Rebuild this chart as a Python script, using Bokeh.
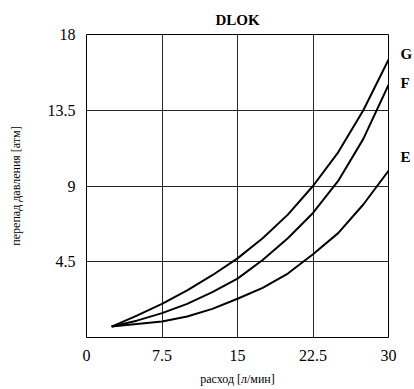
from bokeh.plotting import figure
from bokeh.models import FixedTicker, Range1d, LinearAxis
from bokeh.embed import file_html
from bokeh.resources import INLINE

x_vals = [2.5, 5, 7.5, 10, 12.5, 15, 17.5, 20, 22.5, 25, 27.5, 30]
G = [0.65, 1.3, 2.0, 2.8, 3.7, 4.7, 5.9, 7.3, 9.0, 11.0, 13.5, 16.5]
F = [0.65, 1.0, 1.45, 2.0, 2.7, 3.5, 4.6, 5.9, 7.4, 9.3, 11.8, 15.0]
E = [0.65, 0.8, 0.95, 1.25, 1.7, 2.3, 2.95, 3.8, 4.95, 6.2, 7.9, 9.9]
series_names = ["G", "F", "E"]
series = [G, F, E]
label_lift = [0.35, 0.1, 0.8]   # small vertical shift of the end labels

x_ticks = [0, 7.5, 15, 22.5, 30]
x_tick_labels = ["0", "7.5", "15", "22.5", "30"]
y_ticks = [4.5, 9, 13.5, 18]
y_tick_labels = ["4.5", "9", "13.5", "18"]

p = figure(width=412, height=386, output_backend="svg", toolbar_location=None,
           x_range=Range1d(0, 30), y_range=Range1d(0, 18),
           min_border_left=86, min_border_right=24, min_border_top=34, min_border_bottom=49,
           title="DLOK")
p.frame_width = 302
p.frame_height = 303

p.title.align = "center"
p.title.vertical_align = "top"
p.title.text_font = "Liberation Serif"
p.title.text_font_size = "15px"
p.title.text_font_style = "bold"
p.title.text_color = "black"

p.outline_line_color = "black"
p.outline_line_width = 1
p.background_fill_color = "white"

# end-of-curve labels via a right-hand axis
end_pos = [ys[-1] + d for ys, d in zip(series, label_lift)]
right = LinearAxis(ticker=FixedTicker(ticks=end_pos),
                   major_label_overrides=dict(zip(end_pos, series_names)))
p.add_layout(right, "right")
right.axis_line_color = None
right.major_tick_line_color = None
right.minor_tick_line_color = None
right.major_label_standoff = 6
right.major_label_text_font = "Liberation Serif"
right.major_label_text_font_size = "15px"
right.major_label_text_font_style = "bold"
right.major_label_text_color = "black"

for ax in (p.xaxis[0], p.yaxis[0]):
    ax.axis_line_color = None
    ax.major_tick_line_color = None
    ax.minor_tick_line_color = None
    ax.major_label_text_font = "Liberation Sans Narrow"
    ax.major_label_text_font_size = "16px"
    ax.major_label_text_color = "black"
    ax.axis_label_text_font = "Liberation Serif"
    ax.axis_label_text_font_size = "12px"
    ax.axis_label_text_font_style = "normal"
    ax.axis_label_text_color = "black"

p.xaxis.ticker = FixedTicker(ticks=x_ticks)
p.xaxis.major_label_overrides = dict(zip(x_ticks, x_tick_labels))
p.yaxis[0].ticker = FixedTicker(ticks=y_ticks)
p.yaxis[0].major_label_overrides = dict(zip(y_ticks, y_tick_labels))
p.xaxis.axis_label = "расход [л/мин]"
p.yaxis[0].axis_label = "перепад давления [атм]"
p.xaxis.major_label_standoff = 6
p.xaxis.axis_label_standoff = 8
p.yaxis[0].major_label_standoff = 5
p.yaxis[0].axis_label_standoff = 22

p.xgrid.ticker = FixedTicker(ticks=x_ticks)
p.ygrid.ticker = FixedTicker(ticks=y_ticks)
for g in (p.xgrid[0], p.ygrid[0]):
    g.grid_line_color = "black"
    g.grid_line_alpha = 0.85
    g.grid_line_width = 1

for ys in series:
    p.line(x_vals, ys, line_color="black", line_width=2)

open("out.html", "w").write(file_html(p, INLINE))
